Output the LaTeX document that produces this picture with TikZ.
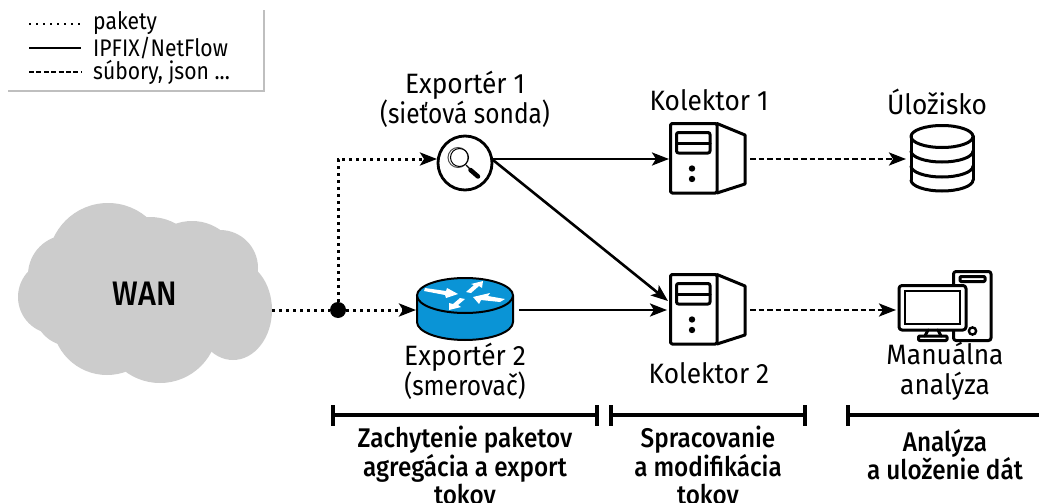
\documentclass[tikz,border=0pt]{standalone}
\usepackage{fontspec}
\setmainfont[FakeStretch=0.94]{Fira Sans}
\newfontfamily\boldf[FakeStretch=0.9]{Fira Sans Medium}
\newfontfamily\legf[FakeStretch=0.88]{Fira Sans}
\newfontfamily\narrowf[FakeStretch=0.875]{Fira Sans}
\usetikzlibrary{arrows.meta}
\definecolor{cloudgray}{HTML}{CCCCCC}
\definecolor{routerblue}{HTML}{0A94D6}
\tikzset{
 x=1pt,y=-1pt,
 lab/.style={align=center,font=\fontsize{28}{30}\selectfont,inner sep=0pt,text=black},
 boldlab/.style={align=center,font=\boldf\fontsize{27}{28.5}\selectfont,inner sep=0pt,text=black},
 legendtxt/.style={anchor=west,font=\legf\fontsize{24}{24}\selectfont,inner sep=0pt},
 tip/.style={-{Stealth[length=17pt,width=13pt,inset=4pt]}},
 dotline/.style={line width=3pt,dash pattern=on 3pt off 4pt},
 solidline/.style={line width=2.6pt},
 dashline/.style={line width=2.6pt,dash pattern=on 5.5pt off 3pt},
 icon/.style={line width=3pt,line join=round,line cap=round},
 legendrule/.style={draw=black!25,line width=2pt},
 brk/.style={line width=3.4pt},
}
\begin{document}
\begin{tikzpicture}
\useasboundingbox (0,0) rectangle (1039,503);
\clip (0,0) rectangle (1039,503);
\fill[white] (0,0) rectangle (1039,503);
% legend
\draw[legendrule] (8,91) -- (264,91) -- (264,10);
\coordinate (la) at (29,24); \coordinate (lb) at (81,24);
\coordinate (lc) at (29,48); \coordinate (ld) at (81,48);
\coordinate (le) at (29,72); \coordinate (lf) at (81,72);
\draw[line width=2pt,dash pattern=on 2pt off 5pt] (la) -- (lb);
\draw[line width=2.2pt] (lc) -- (ld);
\draw[line width=1.8pt,dash pattern=on 5pt off 2.4pt] (le) -- (lf);
\node[legendtxt] (t1) at (93,23) {pakety};
\node[legendtxt] (t2) at (93,48) {IPFIX/NetFlow};
\node[legendtxt] (t3) at (93,72) {súbory, json ...};
% cloud
\foreach \c/\r in {{108,263}/60,{68,275}/40,{55,297}/37,{70,310}/36,{107,320}/55,{160,325}/58,{150,270}/53,{192,270}/49,{220,268}/38}
  \fill[cloudgray] (\c) circle (\r);
\fill[cloudgray] (233,310) ellipse (39 and 50);
\fill[cloudgray] (110,260) -- (230,260) -- (230,330) -- (110,330) -- cycle;
\node[boldlab,font=\boldf\fontsize{34}{34}\selectfont] (wan) at (145,294) {WAN};
% probe
\node[circle,draw,line width=2.8pt,minimum size=54pt,inner sep=0pt,fill=white] (probe) at (465,163) {};
\draw[line width=1pt,draw=black!70] (458,157.5) circle (10);
\draw[line width=1pt] (459.5,157.5) circle (9);
\draw[line width=4.5pt,line cap=round] (470.5,170) -- (478,176.5);
\draw[line width=1.4pt] (466,165) -- (471,170);
% router
\fill[routerblue] (417,295.5) -- (417,322) arc[start angle=180,end angle=0,x radius=48,y radius=18] -- (513,295.5) -- cycle;
\fill[routerblue] (465,295.5) ellipse (48 and 17.5);
\draw[line width=2pt] (417,295.5) -- (417,322) arc[start angle=180,end angle=0,x radius=48,y radius=18] -- (513,295.5);
\draw[line width=2pt] (465,295.5) ellipse (48 and 17.5);
\node[inner sep=0pt,minimum width=96pt,minimum height=62pt] (router) at (465,309) {};
\fill[white] (425,288) -- (446,291) -- (447,288) -- (458,294) -- (446,298) -- (445,295) -- (424,291) -- cycle;
\fill[white] (466,292) -- (474,285) -- (471,284) -- (483,281) -- (482,288) -- (479,286) -- (471,293) -- cycle;
\fill[white] (505,299) -- (488,296) -- (490,293) -- (473,297) -- (479,304) -- (481,300) -- (500,302) -- cycle;
\fill[white] (465,299) -- (458,305) -- (461,307) -- (449,310) -- (449,303) -- (453,304) -- (460,298) -- cycle;
% servers
\foreach \nm/\dy in {s1/0,s2/151}{
 \begin{scope}[yshift=-\dy pt]
 \draw[icon,rounded corners=1.5pt] (670.5,123.5) rectangle (717,193);
 \draw[icon] (717,123.5) -- (745,135) -- (745,184) -- (717,193);
 \draw[icon,rounded corners=2pt] (676.5,132.5) rectangle (710,153);
 \draw[icon] (676.5,143) -- (710,143);
 \fill (692,168.5) circle (3.2);
 \fill (692,179) circle (3.2);
 \end{scope}
}
\node[inner sep=0pt,minimum width=75pt,minimum height=70pt] (col1) at (708,158) {};
\node[inner sep=0pt,minimum width=75pt,minimum height=70pt] (col2) at (708,309) {};
% database
\draw[icon] (911,136) -- (911,180);
\draw[icon] (973,136) -- (973,180);
\draw[icon] (942,136.5) ellipse (31 and 11);
\draw[icon] (911,151) arc[start angle=180,end angle=0,x radius=31,y radius=11];
\draw[icon] (911,166) arc[start angle=180,end angle=0,x radius=31,y radius=11];
\draw[icon] (911,180) arc[start angle=180,end angle=0,x radius=31,y radius=11];
\node[inner sep=0pt,minimum width=62pt,minimum height=65pt] (store) at (942,158) {};
% computer
\draw[icon,rounded corners=2.5pt] (953.5,285) -- (953.5,271.5) -- (991,271.5) -- (991,340.5) -- (953.5,340.5) -- (953.5,330);
\draw[icon,rounded corners=1pt] (960,276.5) rectangle (985,281.5);
\draw[line width=2.4pt] (972.5,331) circle (3.6);
\draw[icon,rounded corners=3pt,fill=white] (899,285.5) rectangle (966,330);
\draw[line width=2pt] (905,291) rectangle (960,324);
\draw[icon] (928,330) -- (925,336);
\draw[icon] (938,330) -- (941,336);
\draw[icon,rounded corners=1pt] (918.5,336) rectangle (947,340.5);
\node[inner sep=0pt,minimum width=94pt,minimum height=70pt] (pc) at (945,306) {};
% connectors
\coordinate (wanE) at (272,310);
\node[circle,fill=black,inner sep=0pt,minimum size=16pt] (junc) at (338,310) {};
\coordinate (bend) at (338,159);
\coordinate (routerW) at (416,310);
\coordinate (probeW) at (437,159);
\coordinate (probeE) at (493,159);
\coordinate (probeSE) at (493,160);
\coordinate (routerE) at (519,310);
\coordinate (c1W) at (669,159);
\coordinate (c2W) at (668,301);
\coordinate (c2Wb) at (667,310);
\coordinate (c1E) at (750,159);
\coordinate (c2E) at (750,310);
\coordinate (storeW) at (906,159);
\coordinate (pcW) at (896,310);
\draw[dotline] (wanE) -- (junc);
\draw[dotline,tip] (junc) -- (routerW);
\draw[dotline,tip] (junc) -- (bend) -- (probeW);
\draw[solidline,tip] (probeE) -- (c1W);
\draw[solidline,tip] (probeSE) -- (c2W);
\draw[solidline,tip] (routerE) -- (c2Wb);
\draw[dashline,tip] (c1E) -- (storeW);
\draw[dashline,tip] (c2E) -- (pcW);
% labels
\node[lab] (l1) at (465,99) {Exportér 1\\{\narrowf (sieťová sonda)}};
\node[lab] (l2) at (709,100) {Kolektor 1};
\node[lab] (l3) at (937,102) {Úložisko};
\node[lab] (l4) at (465,371) {Exportér 2\\{\narrowf (smerovač)}};
\node[lab] (l5) at (709,373) {Kolektor 2};
\node[lab] (l6) at (945,371) {Manuálna\\analýza};
% brackets
\coordinate (b1a) at (333,415); \coordinate (b1b) at (597,415);
\coordinate (b2a) at (611,415); \coordinate (b2b) at (805,415);
\coordinate (b3a) at (848,415); \coordinate (b3b) at (1040,415);
\draw[brk] (b1a) -- (b1b);
\draw[brk] (b2a) -- (b2b);
\draw[brk] (b3a) -- (b3b);
\foreach \xx in {333,597,611,805,848} \draw[brk] (\xx,405) -- (\xx,426);
\node[boldlab,anchor=north] (g1) at (465,426) {Zachytenie paketov\\agregácia a export\\tokov};
\node[boldlab,anchor=north] (g2) at (708,426) {Spracovanie\\a modifikácia\\tokov};
\node[boldlab,anchor=north] (g3) at (945,429) {Analýza\\a uloženie dát};
\end{tikzpicture}
\end{document}
